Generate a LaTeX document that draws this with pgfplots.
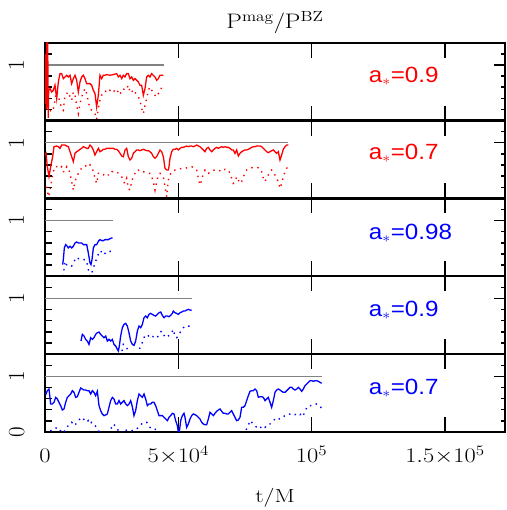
\documentclass[border=0pt]{standalone}
\usepackage{fontspec}
\setsansfont{Liberation Sans}
\usepackage{graphicx}
\usepackage{pgfplots}
\pgfplotsset{compat=1.18}
\definecolor{refgray}{RGB}{130,130,130}
\pgfplotsset{
 panel/.style={
  scale only axis, width=460pt, height=77.86pt, anchor=south west,
  xmin=0, xmax=172500, ymin=0, ymax=1.4,
  axis line style={line width=2.2pt},
  tick align=inside, scaled x ticks=false,
  xtick={0,50000,100000,150000}, xtick pos=both, xticklabels={},
  ytick={1}, minor ytick={0.2,0.4,0.6,0.8,1.2}, ytick pos=left,
  yticklabels={1},
  major tick length=15pt, minor tick length=7pt,
  every tick/.style={black, line width=1.4pt},
  yticklabel style={font=\fontsize{23}{27}\selectfont, xshift=-21pt, rotate=90, anchor=base},
  clip=true,
 },
 rside/.style={
  scale only axis, width=460pt, height=77.86pt, anchor=south west,
  xmin=0, xmax=172500, ymin=0, ymax=1.4,
  hide x axis, axis y line*=right, axis line style={line width=2.2pt},
  tick align=inside,
  ytick={1}, minor ytick={0.2,0.4,0.6,0.8,1.2}, yticklabels={},
  major tick length=11pt, minor tick length=4pt,
  every tick/.style={black, line width=1.4pt},
 },
 solid/.style={line width=1.3pt},
 dots/.style={line width=1.4pt, dash pattern=on 1.4pt off 4.6pt},
 refl/.style={refgray, line width=1.3pt},
}
\newcommand{\alab}[3]{\node[anchor=base west, text=#1, font=\sffamily\fontsize{22}{26}\selectfont, xscale=1.1] at (axis cs:120000,#2) {a$_{*}$=#3};}
\newcommand{\wide}[1]{\scalebox{1.18}[1]{#1}}
\begin{document}
\begin{tikzpicture}[x=1pt,y=1pt]
\path[use as bounding box] (0,0) rectangle (506,510);
% ---------------- panel 1: red a=0.9
\begin{axis}[panel, at={(45pt,389.44pt)},
  title={\wide{$\mathrm{P}^{\mathrm{mag}}/\mathrm{P}^{\mathrm{BZ}}$}},
  title style={font=\fontsize{21}{25}\selectfont, at={(0.5,1)}, anchor=base, yshift=8pt}]
\addplot[refl] coordinates {(0,1) (44500,1)};
\addplot[red, solid] coordinates {(0,0.3)(300,1.2)(500,0.2)(750,1.6)(1000,1.6)(1200,0.05)(1375,0.544)(1875,0.574)(2500,0.514)(3125,0.544)(3750,0.634)(4375,0.394)(5000,0.694)(5625,0.844)(6250,0.844)(6875,0.754)(7500,0.784)(8125,0.814)(8750,0.784)(9375,0.814)(10000,0.664)(10625,0.754)(11250,0.814)(11875,0.724)(12500,0.514)(13125,0.694)(13750,0.784)(14375,0.814)(15000,0.754)(15625,0.664)(16250,0.664)(16875,0.664)(17500,0.634)(18125,0.544)(18750,0.484)(19375,0.245)(20000,0.454)(20625,0.814)(21250,0.754)(21875,0.814)(22500,0.814)(23125,0.826)(24375,0.814)(25625,0.826)(26875,0.844)(27500,0.784)(28125,0.814)(28750,0.754)(29375,0.814)(30000,0.784)(30625,0.844)(31250,0.844)(31875,0.754)(32500,0.784)(33125,0.724)(33750,0.754)(34375,0.724)(35000,0.694)(35625,0.634)(36250,0.634)(36875,0.454)(37500,0.574)(38125,0.784)(38750,0.814)(39375,0.784)(40000,0.844)(40625,0.814)(41250,0.784)(41875,0.724)(42500,0.754)(43125,0.814)(43750,0.814)(44375,0.814)};
\addplot[red, dots] coordinates {(1875,0.185)(2500,0.155)(3125,0.215)(3750,0.365)(4375,0.514)(5000,0.424)(5625,0.335)(6250,0.215)(6875,0.185)(7500,0.454)(8125,0.484)(8750,0.514)(9375,0.424)(10000,0.365)(10625,0.514)(11250,0.454)(11875,0.275)(12500,0.125)(13125,0.305)(13750,0.424)(14375,0.514)(15000,0.574)(15625,0.484)(16250,0.335)(16875,0.215)(17500,0.185)(18125,0.155)(18750,0.125)(19375,0.023)(20000,0.215)(20625,0.365)(21250,0.454)(21875,0.514)(22500,0.514)(23125,0.544)(23750,0.574)(24375,0.544)(25000,0.574)(25625,0.544)(26250,0.514)(26875,0.484)(27500,0.544)(28125,0.484)(28750,0.514)(29375,0.574)(30000,0.544)(30625,0.574)(31250,0.634)(31875,0.514)(32500,0.544)(33125,0.484)(33750,0.514)(34375,0.454)(35000,0.424)(35625,0.365)(36250,0.215)(36875,0.125)(37500,0.275)(38125,0.394)(38750,0.544)(39375,0.604)(40000,0.544)(40625,0.514)(41250,0.454)(41875,0.424)(42500,0.484)(43125,0.514)(43750,0.604)(44375,0.634)};
\alab{red}{0.68}{0.9}
\end{axis}
\begin{axis}[rside, at={(45pt,389.44pt)}]\addplot[draw=none] coordinates {(0,0)};\end{axis}
% ---------------- panel 2: red a=0.7
\begin{axis}[panel, at={(45pt,311.58pt)}]
\addplot[refl] coordinates {(0,1) (91250,1)};
\addplot[red, solid] coordinates {(0,0.78)(375,0.811)(875,0.571)(1500,0.391)(2125,0.571)(2875,0.751)(3375,0.930)(4375,0.942)(5000,0.930)(5625,0.900)(6250,0.960)(6875,0.960)(7500,0.960)(8125,0.942)(8750,0.930)(9375,0.840)(10000,0.751)(10625,0.661)(11250,0.811)(11875,0.840)(12500,0.858)(13125,0.883)(13750,0.900)(14375,0.930)(15000,0.918)(15625,0.900)(16250,0.900)(16875,0.960)(17500,0.930)(18125,0.871)(18750,0.781)(19375,0.840)(20000,0.900)(20625,0.840)(21250,0.858)(21875,0.883)(22500,0.883)(23125,0.900)(25625,0.900)(26250,0.883)(26875,0.883)(27500,0.858)(28125,0.811)(28750,0.763)(29375,0.751)(30000,0.871)(30625,0.900)(31250,0.751)(31875,0.691)(32500,0.721)(33125,0.811)(33750,0.840)(34375,0.871)(35000,0.871)(35625,0.858)(36250,0.871)(36875,0.883)(37500,0.871)(38125,0.858)(38750,0.858)(39375,0.840)(40000,0.811)(40625,0.751)(41250,0.721)(41875,0.751)(42500,0.811)(43125,0.871)(43750,0.840)(44375,0.751)(45000,0.541)(45625,0.511)(46250,0.511)(46500,0.571)(46875,0.721)(47500,0.840)(48125,0.883)(48750,0.883)(49375,0.900)(50000,0.871)(50625,0.900)(51250,0.918)(51875,0.918)(52500,0.930)(53125,0.942)(53750,0.930)(54375,0.942)(55000,0.942)(55625,0.930)(56250,0.942)(56875,0.960)(57500,0.942)(58125,0.930)(58750,0.900)(59375,0.871)(60000,0.840)(60625,0.900)(61250,0.918)(61875,0.871)(62500,0.840)(63125,0.871)(63750,0.900)(64375,0.918)(65000,0.900)(65625,0.918)(66250,0.930)(66875,0.918)(67500,0.930)(68125,0.918)(68750,0.918)(69375,0.900)(70000,0.871)(70625,0.871)(71250,0.811)(71875,0.871)(72500,0.763)(73125,0.811)(73750,0.840)(74375,0.858)(75000,0.871)(75625,0.871)(76250,0.883)(76875,0.900)(77500,0.918)(78125,0.930)(78750,0.930)(79375,0.942)(80000,0.942)(80625,0.942)(81250,0.930)(81875,0.900)(82500,0.871)(83125,0.840)(83750,0.823)(84375,0.840)(85000,0.858)(85625,0.871)(86250,0.840)(86875,0.811)(87500,0.840)(88125,0.691)(88750,0.781)(89375,0.883)(90000,0.930)(90625,0.960)(91250,0.960)};
\addplot[red, dots] coordinates {(625,0.211)(1250,0.031)(1875,0.121)(2500,0.331)(3125,0.481)(3750,0.571)(4375,0.571)(5000,0.571)(5625,0.541)(6250,0.571)(6875,0.481)(7500,0.481)(8125,0.571)(8750,0.541)(9375,0.451)(10000,0.301)(10625,0.151)(11250,0.301)(11875,0.391)(12500,0.451)(13125,0.511)(13750,0.541)(14375,0.541)(15000,0.571)(15625,0.601)(16250,0.571)(16875,0.601)(17500,0.571)(18125,0.481)(18750,0.361)(19375,0.271)(20000,0.451)(20625,0.451)(21250,0.421)(21875,0.421)(22500,0.451)(23125,0.421)(24375,0.421)(25000,0.481)(25625,0.481)(26875,0.481)(28125,0.421)(28750,0.391)(29375,0.301)(30000,0.271)(30625,0.361)(31250,0.181)(31875,0.151)(32500,0.301)(33125,0.391)(33750,0.451)(34375,0.511)(35000,0.511)(35625,0.481)(36875,0.481)(38125,0.451)(39375,0.451)(40000,0.391)(40625,0.301)(41250,0.151)(41875,0.301)(42500,0.421)(43125,0.451)(43750,0.421)(44375,0.391)(45000,0.211)(45625,0.031)(46250,0.331)(46875,0.421)(47500,0.481)(48750,0.511)(50000,0.523)(51250,0.541)(52500,0.541)(53750,0.559)(55000,0.571)(56250,0.541)(56875,0.511)(57500,0.361)(58125,0.241)(58750,0.331)(59375,0.451)(60000,0.511)(60625,0.481)(61250,0.451)(62500,0.499)(63750,0.511)(65000,0.511)(66250,0.481)(66875,0.511)(67500,0.523)(68750,0.511)(69375,0.451)(70000,0.361)(70625,0.271)(71250,0.301)(71875,0.391)(72500,0.331)(73125,0.271)(73750,0.301)(74375,0.391)(75000,0.451)(75625,0.511)(76875,0.541)(78125,0.559)(79375,0.559)(80625,0.541)(81250,0.481)(81875,0.361)(82500,0.301)(83125,0.361)(83750,0.421)(84375,0.481)(85000,0.511)(85625,0.481)(86250,0.421)(86875,0.361)(87500,0.301)(88125,0.181)(88750,0.271)(89375,0.391)(90000,0.481)(90625,0.541)(91250,0.571)};
\alab{red}{0.70}{0.7}
\end{axis}
\begin{axis}[rside, at={(45pt,311.58pt)}]\addplot[draw=none] coordinates {(0,0)};\end{axis}
% ---------------- panel 3: blue a=0.98
\begin{axis}[panel, at={(45pt,233.72pt)}]
\addplot[refl] coordinates {(0,1) (25375,1)};
\addplot[blue, solid] coordinates {(6625,0.209)(6875,0.299)(7250,0.509)(7750,0.569)(8375,0.539)(8750,0.509)(9375,0.539)(10000,0.509)(10625,0.539)(11250,0.599)(11875,0.617)(12500,0.599)(13125,0.599)(13750,0.599)(14375,0.569)(15000,0.569)(15625,0.569)(16250,0.419)(16875,0.239)(17250,0.209)(17625,0.299)(18125,0.509)(18750,0.569)(19375,0.569)(20000,0.629)(20625,0.659)(21250,0.641)(21875,0.641)(22500,0.659)(23125,0.659)(23750,0.659)(24375,0.677)(25000,0.689)(25375,0.689)};
\addplot[blue, dots] coordinates {(6875,0.0)(7125,0.125)(7500,0.269)(8125,0.209)(8750,0.221)(9375,0.209)(10000,0.185)(10625,0.239)(11250,0.299)(11875,0.341)(12500,0.317)(13125,0.317)(13750,0.317)(14375,0.299)(15000,0.299)(15625,0.269)(16250,0.125)(16625,0.018)(17125,0.0)(17750,0.095)(18375,0.185)(19000,0.269)(19625,0.359)(20250,0.419)(20875,0.461)(21500,0.401)(22125,0.389)(23125,0.449)(24375,0.449)(25000,0.449)};
\alab{blue}{0.67}{0.98}
\end{axis}
\begin{axis}[rside, at={(45pt,233.72pt)}]\addplot[draw=none] coordinates {(0,0)};\end{axis}
% ---------------- panel 4: blue a=0.9
\begin{axis}[panel, at={(45pt,155.86pt)}]
\addplot[refl] coordinates {(0,1) (55000,1)};
\addplot[blue, solid] coordinates {(13500,0.236)(14000,0.355)(14625,0.326)(15250,0.266)(15875,0.236)(16500,0.176)(17125,0.296)(17750,0.266)(18375,0.296)(19000,0.355)(19625,0.385)(20250,0.397)(20875,0.355)(21500,0.326)(22125,0.296)(22750,0.326)(23375,0.236)(24000,0.266)(24625,0.236)(25250,0.266)(25875,0.176)(26500,0.146)(27125,0.086)(27500,0.056)(27875,0.146)(28375,0.326)(29000,0.475)(29625,0.535)(30250,0.553)(30875,0.505)(31500,0.385)(32125,0.236)(32750,0.176)(33375,0.158)(34000,0.236)(34625,0.415)(35250,0.505)(35875,0.475)(36500,0.535)(37125,0.655)(37750,0.685)(38375,0.655)(39000,0.715)(39625,0.733)(40250,0.715)(40875,0.697)(41500,0.685)(42125,0.715)(42750,0.745)(43375,0.757)(44000,0.697)(44625,0.655)(45250,0.685)(45875,0.685)(46500,0.673)(47125,0.697)(47750,0.733)(48125,0.775)(48750,0.745)(49375,0.733)(50000,0.715)(50625,0.745)(51250,0.757)(51875,0.775)(52500,0.775)(53125,0.793)(53750,0.805)(54375,0.793)(55000,0.787)};
\addplot[blue, dots] coordinates {(13500,-0.1)(16000,-0.05)(18750,0.015)(21000,-0.08)(25000,-0.1)(28750,0.026)(29375,0.176)(30000,0.158)(30625,0.116)(31250,0.056)(32000,-0.05)(34000,-0.05)(35000,0.015)(35625,0.116)(36250,0.176)(36875,0.266)(37500,0.338)(38125,0.314)(38750,0.326)(39375,0.355)(40000,0.326)(40625,0.314)(41250,0.326)(41875,0.296)(42500,0.326)(43125,0.385)(43750,0.415)(44375,0.355)(45000,0.314)(45625,0.296)(46250,0.326)(46875,0.355)(47500,0.385)(48125,0.445)(48750,0.314)(49375,0.296)(50000,0.326)(50625,0.385)(51250,0.445)(51875,0.475)(52500,0.493)(53125,0.517)(53750,0.505)(54375,0.505)(55000,0.475)};
\alab{blue}{0.68}{0.9}
\end{axis}
\begin{axis}[rside, at={(45pt,155.86pt)}]\addplot[draw=none] coordinates {(0,0)};\end{axis}
% ---------------- panel 5: blue a=0.7
\begin{axis}[panel, at={(45pt,78pt)},
  ytick={0,1}, yticklabels={0,1},
  xticklabels={\wide{$0$},\wide{$5{\times}10^4$},\wide{$10^5$},\wide{$1.5{\times}10^5$}},
  xticklabel pos=lower,
  xticklabel style={font=\fontsize{20}{24}\selectfont, anchor=base, yshift=-31pt},
  xlabel={\scalebox{1.25}[1]{t/M}},
  xlabel style={font=\fontsize{19}{23}\selectfont, at={(0.5,0)}, anchor=base, yshift=-70pt}]
\addplot[refl] coordinates {(0,1) (104000,1)};
\addplot[blue, solid] coordinates {(0,0.70)(375,0.683)(875,0.743)(1500,0.773)(2125,0.504)(2750,0.504)(3375,0.534)(4000,0.623)(4625,0.594)(5250,0.534)(5875,0.474)(6500,0.396)(7125,0.414)(7750,0.534)(8375,0.623)(9000,0.653)(9625,0.683)(10250,0.743)(10875,0.713)(11500,0.623)(12125,0.635)(12750,0.713)(13375,0.791)(14000,0.773)(14625,0.755)(15250,0.755)(15875,0.743)(16500,0.743)(17125,0.683)(17750,0.743)(18375,0.713)(19000,0.653)(19625,0.731)(20250,0.474)(20875,0.384)(21500,0.324)(22125,0.294)(22750,0.306)(23375,0.324)(24000,0.444)(24625,0.564)(25250,0.623)(25875,0.594)(26500,0.504)(27125,0.504)(27750,0.564)(28375,0.504)(29000,0.534)(29625,0.564)(30250,0.504)(30875,0.474)(31500,0.504)(32125,0.564)(32750,0.456)(33375,0.294)(34000,0.384)(34625,0.564)(35250,0.683)(35875,0.653)(36500,0.623)(37125,0.683)(37750,0.594)(38375,0.474)(39000,0.504)(39625,0.504)(40250,0.534)(40875,0.534)(41500,0.474)(42125,0.384)(42750,0.294)(43375,0.294)(44000,0.294)(44625,0.264)(45250,0.234)(45875,0.204)(46500,0.264)(47125,0.294)(47750,0.336)(48375,0.324)(49000,0.204)(49625,0.114)(50000,0.0)(50375,0.0)(50875,0.204)(51500,0.294)(52125,0.336)(52500,0.264)(53125,0.084)(53750,0.144)(54375,0.234)(55000,0.294)(55625,0.324)(56250,0.312)(56875,0.294)(57500,0.264)(58125,0.234)(58750,0.174)(59375,0.144)(60000,0.132)(60625,0.132)(61250,0.234)(61875,0.354)(62500,0.324)(63125,0.294)(63750,0.336)(64375,0.372)(65000,0.396)(65625,0.414)(66250,0.372)(66875,0.336)(67500,0.336)(68125,0.324)(68750,0.324)(69375,0.354)(70000,0.384)(70625,0.324)(71250,0.264)(71875,0.204)(72500,0.216)(73125,0.264)(73750,0.444)(74375,0.444)(75000,0.474)(75625,0.564)(76250,0.653)(76875,0.731)(77500,0.743)(78125,0.743)(78750,0.773)(79375,0.743)(80000,0.623)(80625,0.635)(81250,0.635)(81875,0.623)(82500,0.564)(83125,0.594)(83750,0.623)(84375,0.534)(85000,0.444)(85625,0.564)(86250,0.713)(86875,0.755)(87500,0.773)(88125,0.755)(88750,0.731)(89375,0.713)(90000,0.713)(90625,0.743)(91250,0.773)(91875,0.803)(92500,0.803)(93125,0.773)(93750,0.755)(94375,0.773)(95000,0.803)(95625,0.773)(96250,0.731)(96875,0.773)(97500,0.833)(98125,0.863)(98750,0.893)(99375,0.923)(100000,0.923)(100625,0.911)(101250,0.923)(101875,0.923)(102500,0.911)(103125,0.893)(103750,0.875)};
\addplot[blue, dots] coordinates {(0,-0.02)(1250,0.024)(2500,0.024)(3750,0.05)(4375,0.084)(5625,0.03)(6875,-0.02)(8125,0.084)(8750,0.114)(9375,0.144)(10000,0.174)(10625,0.144)(11250,0.114)(11875,0.174)(12500,0.204)(13125,0.234)(13750,0.264)(14375,0.234)(15000,0.204)(15625,0.174)(16250,0.204)(16875,0.144)(17500,0.174)(18125,0.144)(18750,0.114)(19375,0.084)(20000,0.024)(21250,-0.05)(23125,-0.05)(24375,0.03)(25000,0.084)(25625,0.144)(26250,0.114)(26875,0.084)(27500,0.024)(28750,-0.02)(30000,0.054)(30625,0.024)(31875,0.024)(33125,0.024)(34375,0.054)(35625,0.114)(36875,0.174)(37500,0.174)(38125,0.174)(38750,0.144)(39375,0.084)(40000,0.054)(41250,0.054)(41875,0.012)(43125,-0.05)(50000,-0.1)(60000,-0.1)(70000,-0.05)(74375,-0.02)(75625,0.054)(76250,0.114)(76875,0.204)(77500,0.174)(78125,0.144)(78750,0.114)(79375,0.084)(80000,0.054)(80625,0.072)(81250,0.096)(81875,0.114)(82500,0.084)(83125,0.114)(83750,0.144)(84375,0.144)(85000,0.174)(85625,0.204)(86250,0.234)(86875,0.234)(87500,0.216)(88125,0.252)(88750,0.252)(89375,0.276)(90000,0.294)(90625,0.294)(91250,0.312)(91875,0.324)(92500,0.336)(93125,0.324)(93750,0.312)(94375,0.324)(95000,0.336)(95625,0.312)(96250,0.336)(96875,0.294)(97500,0.384)(98125,0.432)(98750,0.474)(99375,0.474)(100000,0.474)(100625,0.474)(101250,0.492)(101875,0.504)(102500,0.474)(103125,0.444)(103750,0.444)};
\alab{blue}{0.68}{0.7}
\end{axis}
\begin{axis}[rside, at={(45pt,78pt)}]\addplot[draw=none] coordinates {(0,0)};\end{axis}
\end{tikzpicture}
\end{document}
